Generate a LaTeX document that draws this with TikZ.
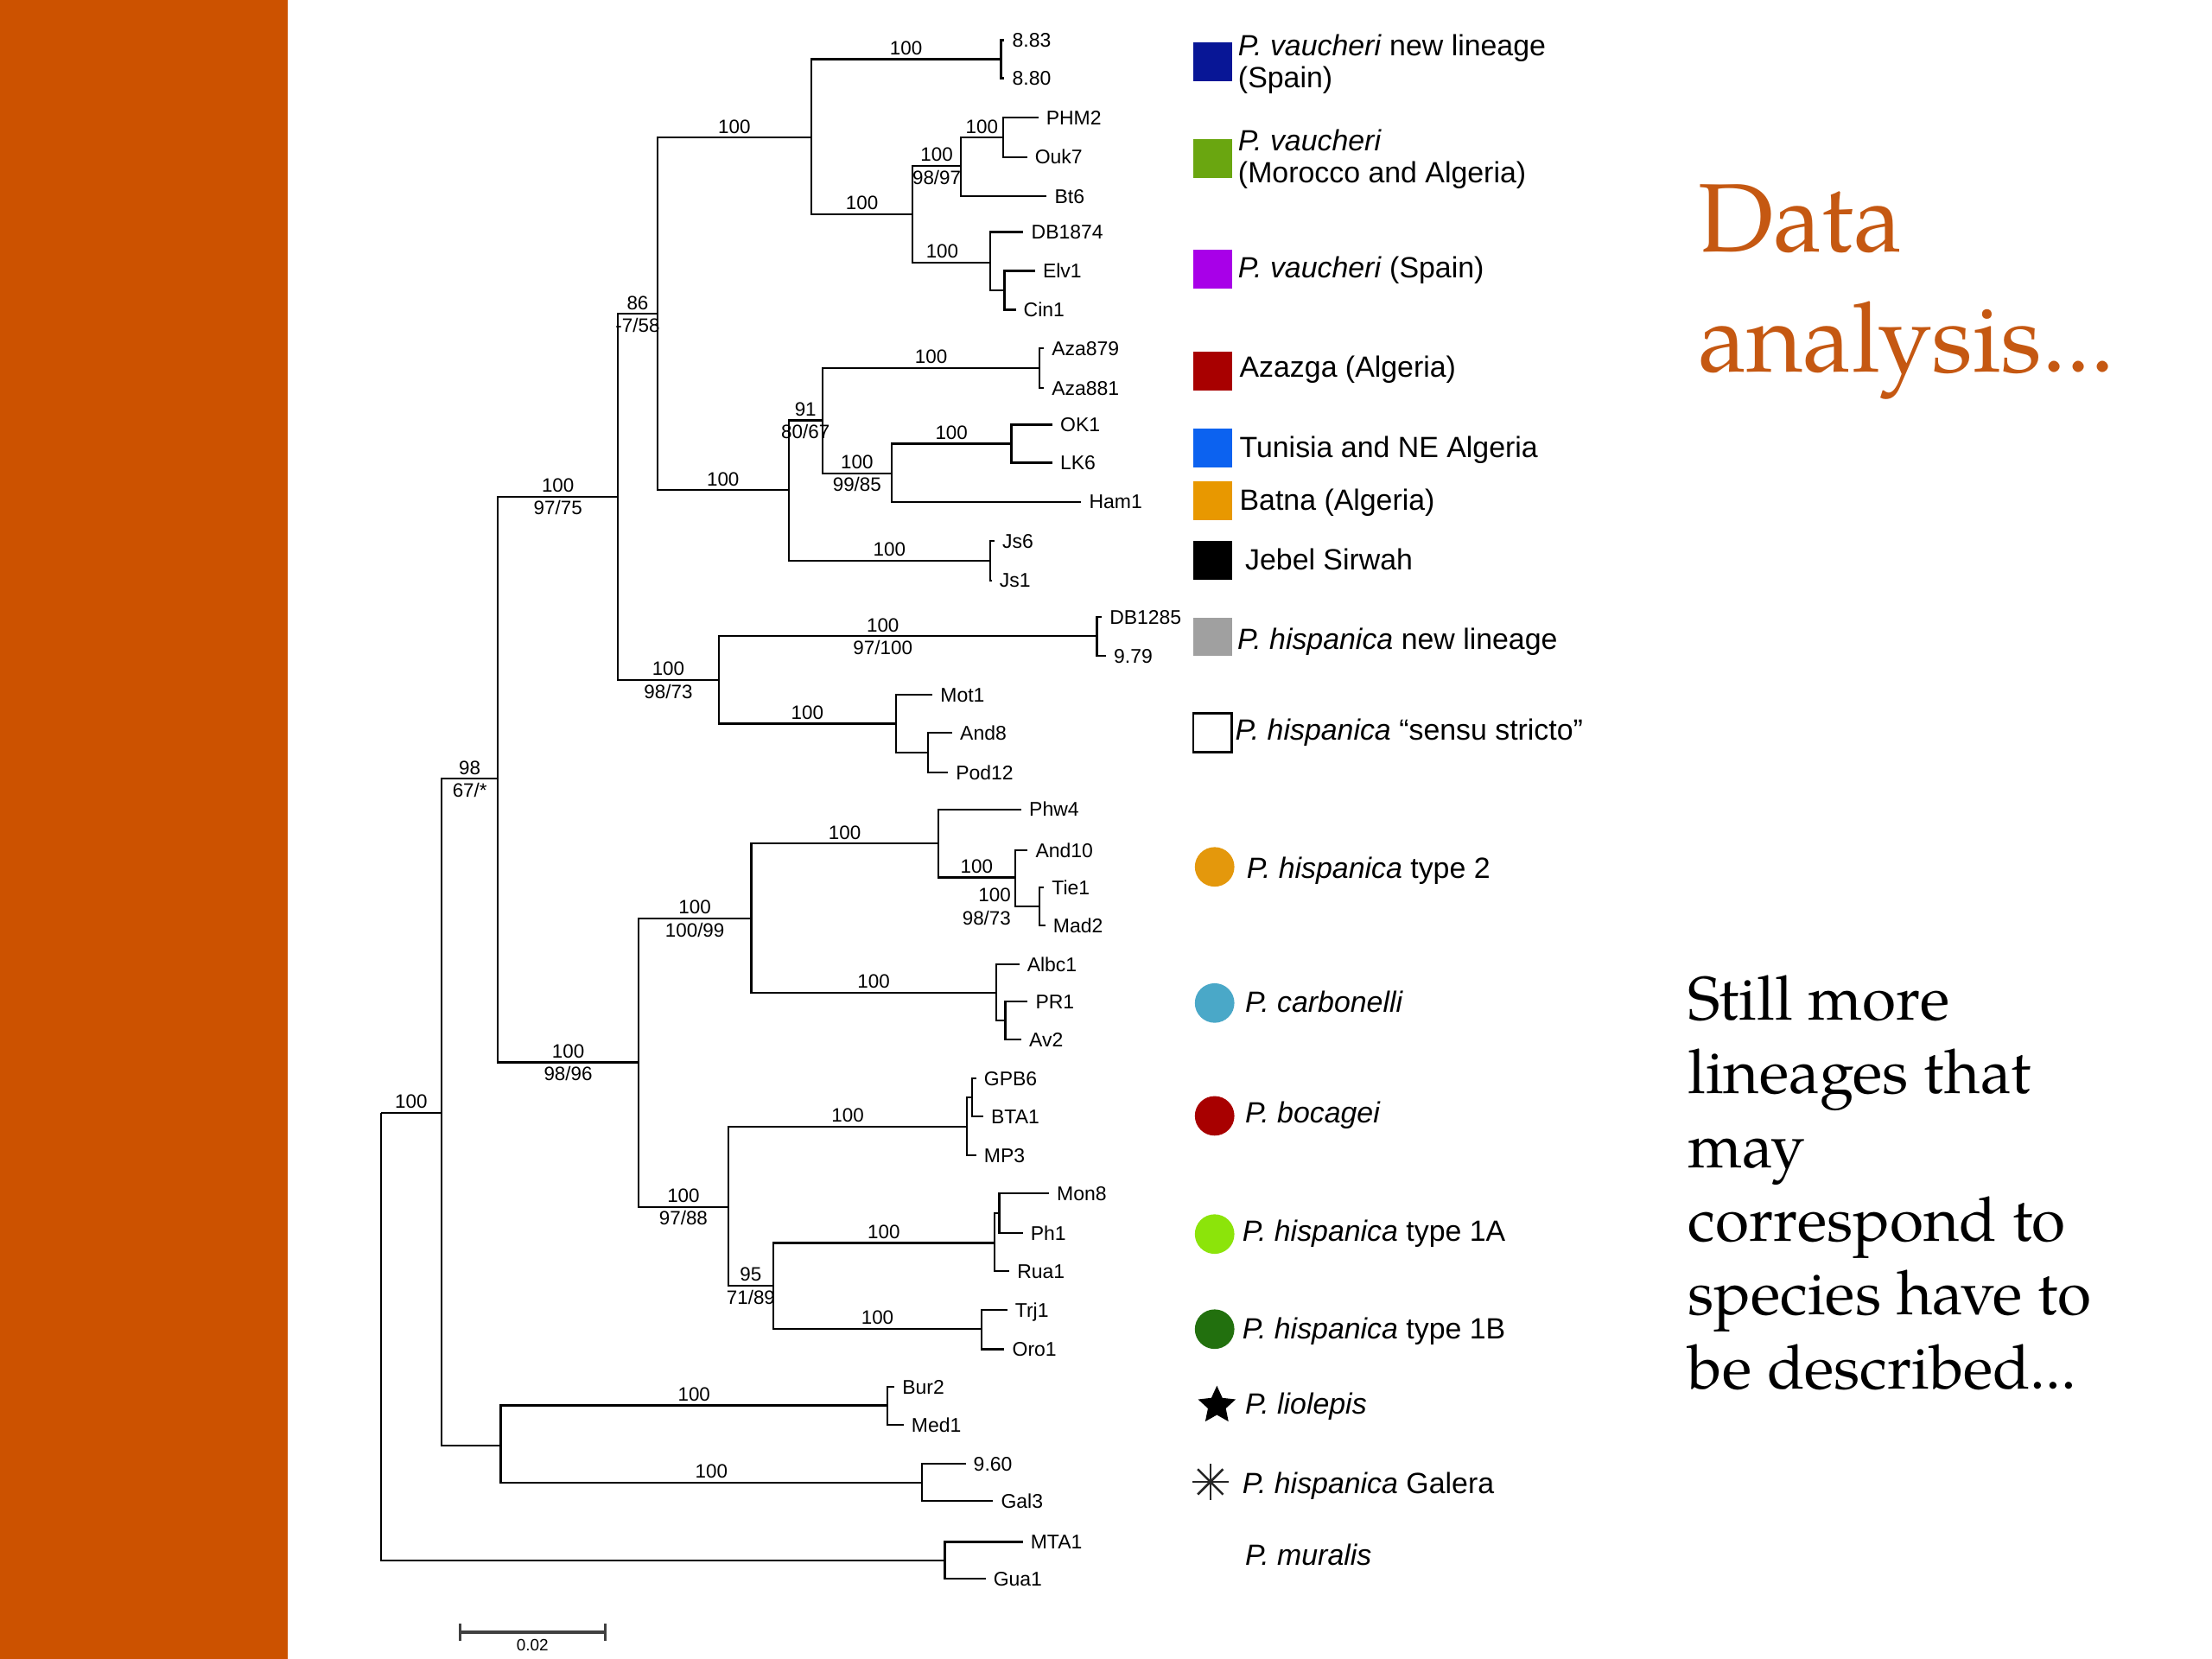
\documentclass[tikz,border=0pt]{standalone}
\usepackage{fontspec}
\setsansfont{Liberation Sans}
\newfontfamily\palfont{texgyrepagella-regular.otf}
\usepackage{xcolor}
\definecolor{barorange}{RGB}{204,82,0}
\definecolor{titleorange}{RGB}{197,88,18}
\definecolor{vaunew}{RGB}{8,22,150}
\definecolor{vaumor}{RGB}{106,166,16}
\definecolor{vauspa}{RGB}{168,0,232}
\definecolor{azazga}{RGB}{168,0,0}
\definecolor{tunisia}{RGB}{12,98,240}
\definecolor{batna}{RGB}{232,152,0}
\definecolor{hispnew}{RGB}{160,160,160}
\definecolor{typetwo}{RGB}{228,152,12}
\definecolor{carbo}{RGB}{74,168,200}
\definecolor{bocag}{RGB}{168,0,0}
\definecolor{typeoneA}{RGB}{140,228,10}
\definecolor{typeoneB}{RGB}{34,112,14}
\usepackage{tikz}
\usetikzlibrary{arrows.meta,shapes.geometric}

\begin{document}
\begin{tikzpicture}[x=0.01cm,y=-0.01cm,line width=0.4pt]
  \tikzstyle{br}=[to path={|- (\tikztotarget) \tikztonodes}]
  \tikzstyle{tip}=[anchor=west,inner sep=1.4pt,text height=3.3pt,text depth=0.44pt,font=\sffamily\fontsize{4}{4.8}\selectfont]
  \tikzstyle{bs}=[inner sep=0.7pt,text height=2.8pt,text depth=0pt,font=\sffamily\fontsize{3.9}{4.5}\selectfont]
  \tikzstyle{bsa}=[bs,pos=0.75,above]
  \tikzstyle{bsb}=[bs,pos=0.75,below]
  \tikzstyle{lsq}=[rectangle,minimum size=0.275cm,inner sep=0pt]
  \tikzstyle{ldot}=[circle,minimum size=0.28cm,inner sep=0pt]
  \tikzstyle{ltext}=[anchor=base west,inner sep=0pt,align=left,font=\sffamily\fontsize{5.9}{6.4}\selectfont]

  \useasboundingbox (0,0) rectangle (1568,1176);
  \fill[white] (0,0) rectangle (1568,1176);
  \fill[barorange] (0,0) rectangle (204,1176);

  % internal nodes of the tree
  \coordinate (r)    at (270,789);
  \coordinate (n313) at (313,789);
  \coordinate (n353) at (353,552);
  \coordinate (n355) at (355,1024.5);
  \coordinate (n670) at (669.7,1106);
  \coordinate (n438) at (438,352);
  \coordinate (n452) at (452.5,753);
  \coordinate (n466) at (466,222.5);
  \coordinate (n509) at (509.5,482);
  \coordinate (n575) at (575,97.5);
  \coordinate (n559) at (559,347.5);
  \coordinate (n709) at (709.5,42);
  \coordinate (n647) at (647,152);
  \coordinate (n681) at (681,117.5);
  \coordinate (n711) at (711,97.5);
  \coordinate (n702) at (702,186);
  \coordinate (n712) at (712,206);
  \coordinate (n583) at (583,298);
  \coordinate (naza) at (737,261);
  \coordinate (n632) at (632,335.5);
  \coordinate (n717) at (717,314.5);
  \coordinate (njs)  at (702,397.5);
  \coordinate (n777) at (777.5,451);
  \coordinate (n635) at (635,513);
  \coordinate (n658) at (658,533.5);
  \coordinate (n532) at (532.6,651);
  \coordinate (n516) at (516.4,855.5);
  \coordinate (n665) at (665,598);
  \coordinate (n720) at (719.7,622);
  \coordinate (ntie) at (737,642.5);
  \coordinate (n706) at (706,703.8);
  \coordinate (npr)  at (712.6,723.5);
  \coordinate (n686) at (685.5,798.5);
  \coordinate (n689) at (689,778);
  \coordinate (n548) at (548,911.5);
  \coordinate (n705) at (705,881);
  \coordinate (n708) at (708.4,860);
  \coordinate (n696) at (696,942);
  \coordinate (n629) at (629,996.3);
  \coordinate (n654) at (653.6,1051);

  % tips
  \node[tip] (t883)   at (712,28.5)    {8.83};
  \node[tip] (t880)   at (712,55.5)    {8.80};
  \node[tip] (phm2)   at (736,83.3)    {PHM2};
  \node[tip] (ouk7)   at (728,111.3)   {Ouk7};
  \node[tip] (bt6)    at (742,139)     {Bt6};
  \node[tip] (db1874) at (725.5,164.4) {DB1874};
  \node[tip] (elv1)   at (733.7,192)   {Elv1};
  \node[tip] (cin1)   at (720,219.5)   {Cin1};
  \node[tip] (aza879) at (740,247)     {Aza879};
  \node[tip] (aza881) at (740,275)     {Aza881};
  \node[tip] (ok1)    at (746,301)     {OK1};
  \node[tip] (lk6)    at (746,328)     {LK6};
  \node[tip] (ham1)   at (766.5,355.7) {Ham1};
  \node[tip] (js6)    at (705,383.5)   {Js6};
  \node[tip] (js1)    at (703,411.4)   {Js1};
  \node[tip] (db1285) at (781,437.5)   {DB1285};
  \node[tip] (t979)   at (784,465)     {9.79};
  \node[tip] (mot1)   at (661,492.4)   {Mot1};
  \node[tip] (and8)   at (675,519.5)   {And8};
  \node[tip] (pod12)  at (672,547.5)   {Pod12};
  \node[tip] (phw4)   at (724,573.7)   {Phw4};
  \node[tip] (and10)  at (728.5,602.7) {And10};
  \node[tip] (tie1)   at (740,629)     {Tie1};
  \node[tip] (mad2)   at (741,656)     {Mad2};
  \node[tip] (albc1)  at (722.5,683.5) {Albc1};
  \node[tip] (pr1)    at (728.5,710)   {PR1};
  \node[tip] (av2)    at (724,737)     {Av2};
  \node[tip] (gpb6)   at (692,764.5)   {GPB6};
  \node[tip] (bta1)   at (697,791.5)   {BTA1};
  \node[tip] (mp3)    at (692,819)     {MP3};
  \node[tip] (mon8)   at (743.6,846)   {Mon8};
  \node[tip] (ph1)    at (725,874)     {Ph1};
  \node[tip] (rua1)   at (715.5,901)   {Rua1};
  \node[tip] (trj1)   at (714,928.5)   {Trj1};
  \node[tip] (oro1)   at (712,956.5)   {Oro1};
  \node[tip] (bur2)   at (634,983)     {Bur2};
  \node[tip] (med1)   at (640.5,1010)  {Med1};
  \node[tip] (t960)   at (684.5,1037.6) {9.60};
  \node[tip] (gal3)   at (704,1064)    {Gal3};
  \node[tip] (mta1)   at (725,1093)    {MTA1};
  \node[tip] (gua1)   at (698.6,1119)  {Gua1};

  % branches
  \path (r)    edge [br] node [bsa] (b01) {100} (n313)
               edge [br] (n670)
        (n313) edge [br] node [bsa] (b02) {98} node [bsb] (b03) {67/*} (n353)
               edge [br] (n355)
        (n353) edge [br] node [bsa] (b04) {100} node [bsb] (b05) {97/75} (n438)
               edge [br] node [bsa] (b06) {100} node [bsb] (b07) {98/96} (n452)
        (n438) edge [br] node [bsa] (b08) {86} node [bsb] (b09) {-7/58} (n466)
               edge [br] node [bsa] (b10) {100} node [bsb] (b11) {98/73} (n509)
        (n466) edge [br] node [bsa] (b12) {100} (n575)
               edge [br] node [bsa] (b13) {100} (n559)
        (n575) edge [br] node [bsa] (b14) {100} (n709)
               edge [br] node [bsa] (b15) {100} (n647)
        (n709) edge [br] (t883)
               edge [br] (t880)
        (n647) edge [br] node [bsa] (b16) {100} node [bsb] (b17) {98/97} (n681)
               edge [br] node [bsa,pos=0.69] (b18) {100} (n702)
        (n681) edge [br] node [bsa] (b19) {100} (n711)
               edge [br] (bt6)
        (n711) edge [br] (phm2)
               edge [br] (ouk7)
        (n702) edge [br] (db1874)
               edge [br] (n712)
        (n712) edge [br] (elv1)
               edge [br] (cin1)
        (n559) edge [br] node [bsa] (b20) {91} node [bsb] (b21) {80/67} (n583)
               edge [br] node [bsa] (b22) {100} (njs)
        (n583) edge [br] node [bsa] (b23) {100} (naza)
               edge [br] node [bsa] (b24) {100} node [bsb] (b25) {99/85} (n632)
        (naza) edge [br] (aza879)
               edge [br] (aza881)
        (n632) edge [br] node [bsa] (b26) {100} (n717)
               edge [br] (ham1)
        (n717) edge [br] (ok1)
               edge [br] (lk6)
        (njs)  edge [br] (js6)
               edge [br] (js1)
        (n509) edge [br] node [bsa,pos=0.717] (b27) {100} node [bsb,pos=0.717] (b28) {97/100} (n777)
               edge [br] node [bsa] (b29) {100} (n635)
        (n777) edge [br] (db1285)
               edge [br] (t979)
        (n635) edge [br] (mot1)
               edge [br] (n658)
        (n658) edge [br] (and8)
               edge [br] (pod12)
        (n452) edge [br] node [bsa] (b30) {100} node [bsb] (b31) {100/99} (n532)
               edge [br] node [bsa] (b32) {100} node [bsb] (b33) {97/88} (n516)
        (n532) edge [br] node [bsa] (b34) {100} (n665)
               edge [br] node [bsa] (b35) {100} (n706)
        (n665) edge [br] (phw4)
               edge [br] node [bsa] (b36) {100} (n720)
        (n720) edge [br] (and10)
               edge [br] node [bsa,pos=0.5,anchor=south east] (b37) {100} node [bsb,pos=0.5,anchor=north east] (b38) {98/73} (ntie)
        (ntie) edge [br] (tie1)
               edge [br] (mad2)
        (n706) edge [br] (albc1)
               edge [br] (npr)
        (npr)  edge [br] (pr1)
               edge [br] (av2)
        (n516) edge [br] node [bsa] (b39) {100} (n686)
               edge [br] node [bsa] (b40) {95} node [bsb] (b41) {71/89} (n548)
        (n686) edge [br] (n689)
               edge [br] (mp3)
        (n689) edge [br] (gpb6)
               edge [br] (bta1)
        (n548) edge [br] node [bsa] (b42) {100} (n705)
               edge [br] node [bsa] (b43) {100} (n696)
        (n705) edge [br] (n708)
               edge [br] (rua1)
        (n708) edge [br] (mon8)
               edge [br] (ph1)
        (n696) edge [br] (trj1)
               edge [br] (oro1)
        (n355) edge [br] node [bsa] (b44) {100} (n629)
               edge [br] node [bsa] (b45) {100} (n654)
        (n629) edge [br] (bur2)
               edge [br] (med1)
        (n654) edge [br] (t960)
               edge [br] (gal3)
        (n670) edge [br] (mta1)
               edge [br] (gua1);

  % scale bar
  \coordinate (sb1) at (325,1157);
  \coordinate (sb2) at (430,1157);
  \draw[line width=0.55pt,black!75,{Bar[width=3.4pt]}-{Bar[width=3.4pt]}] (sb1) -- (sb2);
  \node[inner sep=0pt,font=\sffamily\fontsize{3.3}{4}\selectfont] (sblab) at (377.5,1166) {0.02};

  % legend
  \node[lsq,fill=vaunew]   (sq1) at (859.5,44)    {};
  \node[lsq,fill=vaumor]   (sq2) at (859.5,112.3) {};
  \node[lsq,fill=vauspa]   (sq3) at (859.5,191)   {};
  \node[lsq,fill=azazga]   (sq4) at (859.5,263)   {};
  \node[lsq,fill=tunisia]  (sq5) at (859.5,317.8) {};
  \node[lsq,fill=batna]    (sq6) at (859.5,355)   {};
  \node[lsq,fill=black]    (sq7) at (859.5,397.3) {};
  \node[lsq,fill=hispnew]  (sq8) at (859.5,451.4) {};
  \node[lsq,fill=white,draw=black,line width=0.45pt] (sq9) at (859.5,519.5) {};
  \node[ldot,fill=typetwo]  (dt1) at (861,614.5) {};
  \node[ldot,fill=carbo]    (dt2) at (861,711)   {};
  \node[ldot,fill=bocag]    (dt3) at (861,791)   {};
  \node[ldot,fill=typeoneA] (dt4) at (861,874.8) {};
  \node[ldot,fill=typeoneB] (dt5) at (861,942.2) {};
  \node[star,star points=5,star point ratio=2.1,fill=black,minimum size=0.28cm,inner sep=0pt] (stp) at (862.6,996.3) {};
  \coordinate (ast) at (858,1050.4);
  \foreach \a in {0,45,90,135}
    \draw[line width=0.45pt,black!85] (ast) ++(\a:12.7) -- ++(\a+180:25.4);

  \node[ltext] (lg1)  at (877,62.3)   {\textit{P. vaucheri} new lineage\\(Spain)};
  \node[ltext] (lg2)  at (877,129.6)  {\textit{P. vaucheri}\\(Morocco and Algeria)};
  \node[ltext] (lg3)  at (877,197)    {\textit{P. vaucheri} (Spain)};
  \node[ltext] (lg4)  at (878,267.5)  {Azazga (Algeria)};
  \node[ltext] (lg5)  at (878,324.6)  {Tunisia and NE Algeria};
  \node[ltext] (lg6)  at (878,361.4)  {Batna (Algeria)};
  \node[ltext] (lg7)  at (882,404.2)  {Jebel Sirwah};
  \node[ltext] (lg8)  at (876.5,460.4) {\textit{P. hispanica} new lineage};
  \node[ltext] (lg9)  at (875,524.7)  {\textit{P. hispanica} “sensu stricto”};
  \node[ltext] (lg10) at (883,622.7)  {\textit{P. hispanica} type 2};
  \node[ltext] (lg11) at (882,717.6)  {\textit{P. carbonelli}};
  \node[ltext] (lg12) at (882,796.2)  {\textit{P. bocagei}};
  \node[ltext] (lg13) at (880,880)    {\textit{P. hispanica} type 1A};
  \node[ltext] (lg14) at (880,949.3)  {\textit{P. hispanica} type 1B};
  \node[ltext] (lg15) at (882,1002.4) {\textit{P. liolepis}};
  \node[ltext] (lg16) at (880,1058.6) {\textit{P. hispanica} Galera};
  \node[ltext] (lg17) at (882,1109.6) {\textit{P. muralis}};

  % slide text
  \node[anchor=base west,inner sep=0pt,align=left,text=titleorange,font=\palfont\fontsize{19.6}{24.1}\selectfont] (ttl) at (1203,263.4) {Data\\analysis...};
  \node[anchor=base west,inner sep=0pt,align=left,font=\palfont\fontsize{12.4}{14.85}\selectfont] (note) at (1196,984.3) {Still more\\lineages that\\may\\correspond to\\species have to\\be described...};
\end{tikzpicture}
\end{document}
